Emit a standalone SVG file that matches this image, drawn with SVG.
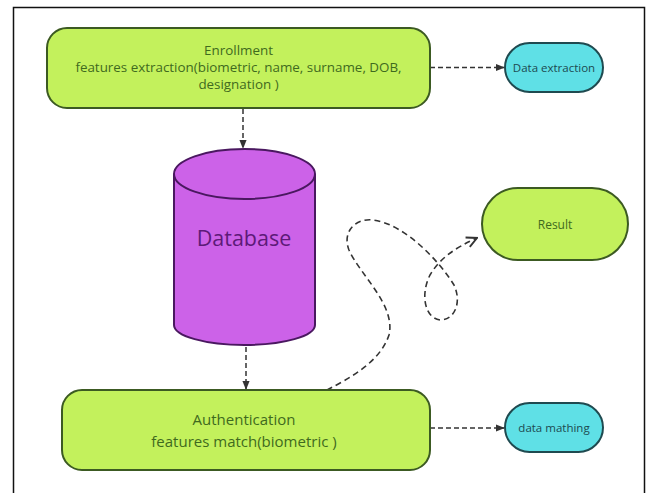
<svg xmlns="http://www.w3.org/2000/svg" width="648" height="493" viewBox="0 0 648 493">
<defs>
<style>
.green{fill:#c3f15c;stroke:#3c5a22;stroke-width:2}
.cyan{fill:#5fe0e6;stroke:#1f4a50;stroke-width:2}
.purple{fill:#cc62e8;stroke:#4a1860;stroke-width:2}
.t{font-family:"Open Sans","Liberation Sans",sans-serif;text-anchor:middle}
.gt{fill:#3f6a1e}
.ct{fill:#1d4a50;font-size:11.5px}
.pt{fill:#5d1a78;font-size:21.5px}
.dash{fill:none;stroke:#333;stroke-width:1.5;stroke-dasharray:5 3}
.dash2{fill:none;stroke:#333;stroke-width:1.6;stroke-dasharray:6 4}
</style>
<marker id="ah" viewBox="0 0 10 10" refX="9" refY="5" markerWidth="6" markerHeight="6" orient="auto">
<path d="M0,1 L10,5 L0,9 z" fill="#333"/>
</marker>
<marker id="oh" viewBox="0 0 10 10" refX="9" refY="5" markerWidth="8" markerHeight="8" orient="auto">
<path d="M1,1 L9,5 L1,9" fill="none" stroke="#333" stroke-width="1.5"/>
</marker>
</defs>
<rect x="0" y="0" width="648" height="493" fill="#fff"/>
<rect x="13.5" y="7.5" width="631" height="500" fill="none" stroke="#111" stroke-width="1.5"/>

<g id="connectors">
<line class="dash" x1="430" y1="67.5" x2="504" y2="67.5" marker-end="url(#ah)"/>
<line class="dash" x1="243" y1="109" x2="243" y2="148" marker-end="url(#ah)"/>
<line class="dash" x1="246" y1="347" x2="246" y2="389" marker-end="url(#ah)"/>
<line class="dash" x1="430" y1="428" x2="504" y2="428" marker-end="url(#ah)"/>
<path class="dash2" d="M327,390 C350,378 380,362 389,335 C396,305 360,275 349,250 C342,232 355,218 373,220 C405,224 440,262 454,285 C462,302 455,320 440,320 C425,318 420,295 430,275 C440,258 455,248 477,238" marker-end="url(#oh)"/>
</g>

<g id="enrollment">
<rect class="green" x="47" y="28" width="383" height="80" rx="20"/>
<text class="t gt" x="238.5" y="55" font-size="13.4">Enrollment</text>
<text class="t gt" x="238.5" y="72" font-size="13.4">features extraction(biometric, name, surname, DOB,</text>
<text class="t gt" x="238.5" y="89" font-size="13.4">designation )</text>
</g>

<g id="data-extraction">
<rect class="cyan" x="505" y="43" width="98" height="49" rx="24.5"/>
<text class="t ct" x="554" y="71.5">Data extraction</text>
</g>

<g id="database">
<path class="purple" d="M174,174 L174,325 A70.5,20 0 0 0 315,325 L315,174"/>
<ellipse class="purple" cx="244.5" cy="174" rx="70.5" ry="25"/>
<text class="t pt" x="244" y="246">Database</text>
</g>

<g id="result">
<rect class="green" x="482" y="188" width="146" height="72" rx="36"/>
<text class="t gt" x="555" y="229" font-size="12">Result</text>
</g>

<g id="authentication">
<rect class="green" x="62" y="390" width="368" height="80" rx="20"/>
<text class="t gt" x="244" y="425" font-size="15">Authentication</text>
<text class="t gt" x="244" y="447" font-size="15">features match(biometric )</text>
</g>

<g id="data-mathing">
<rect class="cyan" x="505" y="403" width="98" height="49" rx="24.5"/>
<text class="t ct" x="554" y="431.5">data mathing</text>
</g>
</svg>
